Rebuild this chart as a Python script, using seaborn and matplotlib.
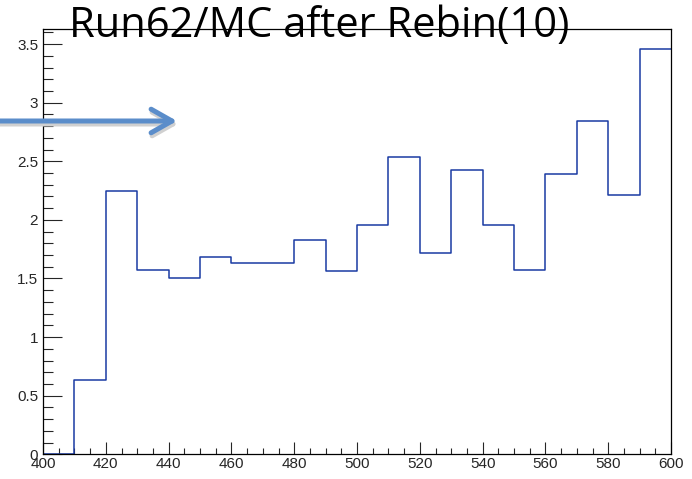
import numpy as np
import pandas as pd
import matplotlib
matplotlib.use("Agg")
import matplotlib.pyplot as plt
from matplotlib.patches import FancyArrowPatch
from matplotlib.ticker import MultipleLocator, FuncFormatter
import seaborn as sns

# Ratio Run62/MC, rebinned by 10 (bin edges 400..600)
bin_low = [400, 410, 420, 430, 440, 450, 460, 470, 480, 490,
           500, 510, 520, 530, 540, 550, 560, 570, 580, 590]
ratio = [0.0, 0.63, 2.25, 1.575, 1.50, 1.685, 1.63, 1.63, 1.83, 1.565,
         1.955, 2.54, 1.72, 2.425, 1.955, 1.57, 2.39, 2.845, 2.215, 3.46]
edges = bin_low + [600]
title = "Run62/MC after Rebin(10)"

df = pd.DataFrame({"mass": np.array(bin_low) + 5, "ratio": ratio})

sns.set_style("ticks")
plt.rcParams["font.family"] = ["Liberation Sans", "DejaVu Sans"]

fig = plt.figure(figsize=(6.92, 4.79), dpi=100)
ax = fig.add_axes([43 / 692, 24.7 / 479, 628 / 692, 425.8 / 479])

sns.histplot(data=df, x="mass", weights="ratio", bins=edges,
             element="step", fill=False, color="#1a3aa3",
             linewidth=1.1, ax=ax)

ax.set_xlim(400, 600)
ax.set_ylim(0, 1.05 * max(ratio))
ax.set_xlabel("")
ax.set_ylabel("")

for s in ax.spines.values():
    s.set_visible(True)
    s.set_color("black")
    s.set_linewidth(0.9)

ax.xaxis.set_major_locator(MultipleLocator(20))
ax.xaxis.set_minor_locator(MultipleLocator(5))
ax.yaxis.set_major_locator(MultipleLocator(0.5))
ax.yaxis.set_minor_locator(MultipleLocator(0.1))
ax.yaxis.set_major_formatter(FuncFormatter(lambda v, p: f"{v:g}"))
ax.tick_params(axis="x", which="major", direction="in", length=8.6,
               width=0.8, labelsize=11, pad=2, top=False)
ax.tick_params(axis="x", which="minor", direction="in", length=4.3,
               width=0.8, top=False)
ax.tick_params(axis="y", which="major", direction="in", length=13.5,
               width=0.8, labelsize=11, pad=3.5, right=False)
ax.tick_params(axis="y", which="minor", direction="in", length=7.5,
               width=0.8, right=False)

# Title overlapping the frame
fig.text(319 / 692, (479 - 37) / 479, title, ha="center", va="baseline",
         fontsize=30, family=["Open Sans", "DejaVu Sans"], color="black",
         zorder=10)

# Pointer arrow with a soft shadow
for dx, dy, col, z in [(1, -3, "#d0d0d0", 4), (0, 0, "#5b8dca", 5)]:
    fig.patches.append(FancyArrowPatch(
        (-5 + dx, 358 + dy), (177 + dx, 358 + dy),
        transform=None, arrowstyle="->,head_length=15,head_width=8.5",
        mutation_scale=1, linewidth=3.6, color=col, zorder=z,
        capstyle="round", joinstyle="round", shrinkA=0, shrinkB=0))

fig.savefig("out.png", dpi=100)
